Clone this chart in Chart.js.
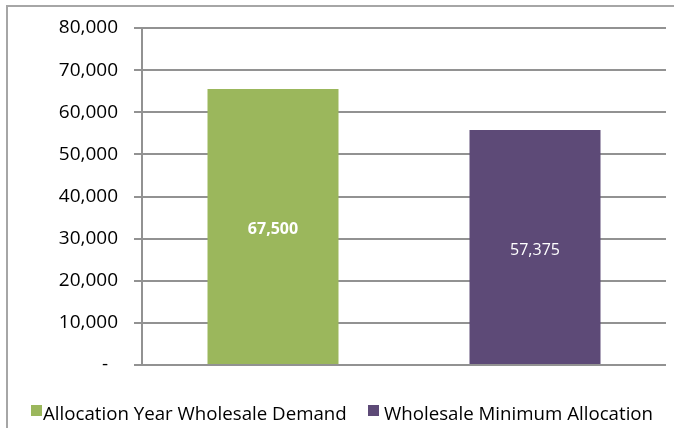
<!DOCTYPE html>
<html>
<head>
<meta charset="utf-8">
<script src="https://cdn.jsdelivr.net/npm/chart.js@4"></script>
<style>
  body { margin: 0; background: #fff; }
  canvas { display: block; }
</style>
</head>
<body>
<canvas id="barCanvas" width="674" height="428"></canvas>
<script>
const categories = ["Allocation Year Wholesale Demand", "Wholesale Minimum Allocation"];
// bar heights as drawn against the axis
const barValues = [65500, 55800];
// numbers printed inside the bars
const labelValues = [67500, 57375];
const yTicks = [0, 10000, 20000, 30000, 40000, 50000, 60000, 70000, 80000];
const barColors = ["#9BB75C", "#5D4A77"];

const fmt = (v) => v.toLocaleString("en-US");

const framePlugin = {
  id: "frame",
  beforeDraw(chart) {
    const ctx = chart.ctx;
    ctx.save();
    ctx.strokeStyle = "#a6a6a6";
    ctx.lineWidth = 2;
    ctx.strokeRect(7, 6, 720, 500);
    ctx.restore();
  },
};

const barLabelPlugin = {
  id: "barLabels",
  afterDatasetsDraw(chart) {
    const ctx = chart.ctx;
    const meta = chart.getDatasetMeta(0);
    ctx.save();
    ctx.fillStyle = "#fff";
    ctx.textAlign = "center";
    ctx.textBaseline = "middle";
    meta.data.forEach((bar, i) => {
      ctx.font = (i === 0 ? "bold " : "") + "16px 'Open Sans'";
      ctx.fillText(fmt(labelValues[i]), bar.x, (bar.y + bar.base) / 2 + 3);
    });
    ctx.restore();
  },
};

const legendPlugin = {
  id: "sideLegend",
  afterDraw(chart) {
    const ctx = chart.ctx;
    const y = chart.chartArea.bottom + 55;
    const starts = [31, 368];
    const gaps = [1, 5];
    ctx.save();
    ctx.font = "18.7px 'Open Sans'";
    ctx.textBaseline = "alphabetic";
    ctx.textAlign = "left";
    categories.forEach((c, i) => {
      ctx.fillStyle = barColors[i];
      ctx.fillRect(starts[i], y - 15, 11, 11);
      ctx.fillStyle = "#000";
      ctx.fillText(c, starts[i] + 11 + gaps[i], y);
    });
    ctx.restore();
  },
};

const barChart = new Chart(document.getElementById("barCanvas"), {
  type: "bar",
  data: {
    labels: categories,
    datasets: [
      {
        data: barValues,
        backgroundColor: barColors,
        categoryPercentage: 1,
        barPercentage: 0.5,
      },
    ],
  },
  options: {
    responsive: false,
    animation: false,
    layout: {
      padding: { left: 0, right: 8, top: 28, bottom: 63 },
    },
    scales: {
      x: {
        display: false,
      },
      y: {
        min: 0,
        max: 80000,
        afterFit: (scale) => {
          scale.width = 142;
        },
        afterBuildTicks: (scale) => {
          scale.ticks = yTicks.map((v) => ({ value: v }));
        },
        ticks: {
          color: "#000",
          padding: 16,
          font: { family: "'Open Sans'", size: 19 },
          callback: (v) => (v === 0 ? "-  " : fmt(v)),
        },
        grid: {
          color: "#929292",
          lineWidth: 2,
          tickLength: 8,
        },
        border: {
          color: "#929292",
          width: 2,
        },
      },
    },
    plugins: {
      legend: { display: false },
      tooltip: { enabled: false },
    },
  },
  plugins: [framePlugin, barLabelPlugin, legendPlugin],
});
</script>
</body>
</html>
